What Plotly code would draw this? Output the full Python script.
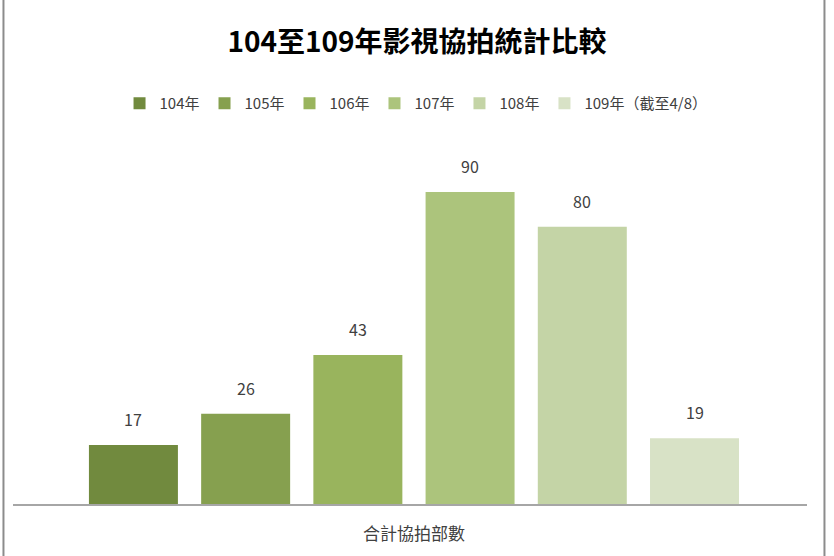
import plotly.graph_objects as go

category = ["合計協拍部數"]
series_names = ["104年", "105年", "106年", "107年", "108年", "109年（截至4/8）"]
values = [17, 26, 43, 90, 80, 19]
colors = ["#718a3e", "#86a04f", "#99b45d", "#acc47c", "#c4d4a6", "#d8e2c6"]

FONT = "Noto Sans CJK TC"
BARGAP = 0.152
BARGROUPGAP = 0.207

fig = go.Figure()
for name, v, c in zip(series_names, values, colors):
    fig.add_trace(go.Bar(
        x=category, y=[v], name=name,
        marker=dict(color=c, line=dict(width=0)),
    ))

# data labels above each bar, positioned via the category axis scale
n = len(values)
slot = (1 - BARGAP) / n
annotations = []
for i, v in enumerate(values):
    annotations.append(dict(
        x=-(1 - BARGAP) / 2 + slot * (i + 0.5), y=v, xref="x", yref="y",
        text=str(v), showarrow=False, yanchor="bottom", yshift=12,
        font=dict(family=FONT, size=16, color="#404040"),
    ))

fig.update_layout(
    width=834, height=556,
    margin=dict(l=13, r=27, t=140, b=52),
    paper_bgcolor="white", plot_bgcolor="white",
    barmode="group", bargap=BARGAP, bargroupgap=BARGROUPGAP,
    title=dict(text="<b>104至109年影視協拍統計比較</b>", x=0.5, xanchor="center",
               y=1 - 42 / 556, yanchor="middle",
               font=dict(family=FONT, size=28, color="#000000")),
    legend=dict(orientation="h", x=0.5076, xanchor="center", y=1.10, yanchor="middle",
                font=dict(family=FONT, size=15, color="#404040"),
                traceorder="normal", itemwidth=30),
    showlegend=True,
    xaxis=dict(showline=True, linecolor="#a6a6a6", linewidth=2, ticks="",
               tickfont=dict(family=FONT, size=17, color="#404040"),
               ticklabelstandoff=14,
               range=[-0.505, 0.495], fixedrange=True),
    yaxis=dict(range=[0, 105], visible=False, showgrid=False, zeroline=False),
    annotations=annotations,
    shapes=[
        dict(type="line", xref="paper", yref="paper", x0=-0.012, x1=-0.012, y0=-0.2, y1=1.5,
             line=dict(color="#8c8c8c", width=2)),
        dict(type="line", xref="paper", yref="paper", x0=1.022, x1=1.022, y0=-0.2, y1=1.5,
             line=dict(color="#8c8c8c", width=2)),
    ],
)

fig.write_html("out.html")
